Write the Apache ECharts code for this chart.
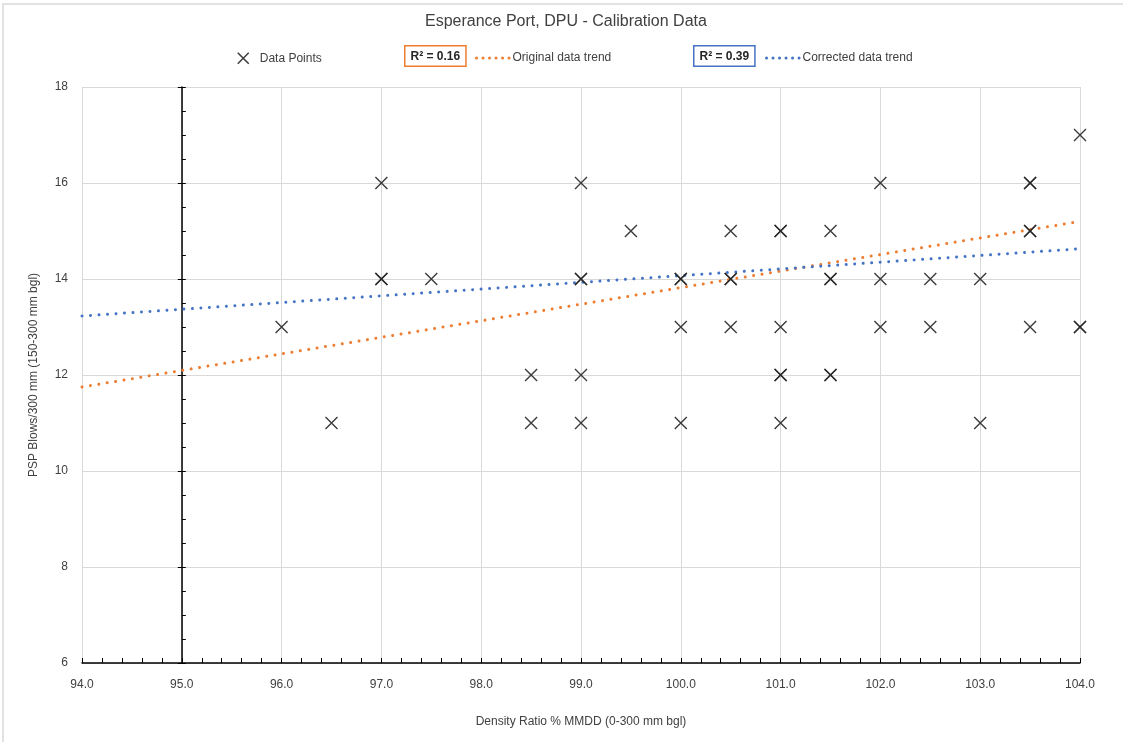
<!DOCTYPE html>
<html>
<head>
<meta charset="utf-8">
<script src="https://cdn.jsdelivr.net/npm/echarts@6/dist/echarts.min.js"></script>
<style>
  html, body { margin: 0; padding: 0; background: #fff; }
  #chart { width: 1123px; height: 742px; }
</style>
</head>
<body>
<div id="chart"></div>
<script>
// calibration points [density ratio %, PSP blows]; repeated points are listed twice
const dataPoints = [
  [96.0, 13], [96.5, 11],
  [97.0, 16], [97.0, 14], [97.0, 14], [97.5, 14],
  [98.5, 12], [98.5, 11],
  [99.0, 16], [99.0, 14], [99.0, 14], [99.0, 12], [99.0, 11],
  [99.5, 15],
  [100.0, 14], [100.0, 14], [100.0, 13], [100.0, 11],
  [100.5, 15], [100.5, 14], [100.5, 14], [100.5, 13],
  [101.0, 15], [101.0, 15], [101.0, 13], [101.0, 12], [101.0, 12], [101.0, 11],
  [101.5, 15], [101.5, 14], [101.5, 14], [101.5, 12], [101.5, 12],
  [102.0, 16], [102.0, 14], [102.0, 13],
  [102.5, 14], [102.5, 13],
  [103.0, 14], [103.0, 11],
  [103.5, 16], [103.5, 16], [103.5, 15], [103.5, 15], [103.5, 13],
  [104.0, 17], [104.0, 13], [104.0, 13]
];
const originalTrend = [[94.0, 11.75], [104.0, 15.2]];
const correctedTrend = [[94.0, 13.23], [104.0, 14.63]];
const seriesNames = ["Data Points", "Original data trend", "Corrected data trend"];
const r2Labels = ["R\u00b2 = 0.16", "R\u00b2 = 0.39"];

const ORANGE = "#ED7D31";
const BLUE = "#4472C4";
const INK = "#262626";
const GRID_C = "#d9d9d9";
const FONT = "Liberation Sans";
const X_ICON = "path://M0,0L10,10M10,0L0,10";

const chart = echarts.init(document.getElementById("chart"));

const GRID_L = 82, GRID_R = 43;
const plotW = 1123 - GRID_L - GRID_R;
const axisShift = -plotW / 10; // vertical axis crosses at 95.0

const dotted = (color) => ({ color, width: 3, type: [0.01, 8.5], cap: "round" });

const vAxisBase = {
  type: "value", min: 6, max: 18, interval: 2, position: "left",
  offset: axisShift,
  axisLabel: { show: false },
  splitLine: { show: false },
};

const trendLegend = (name, left) => ({
  data: [name],
  left, top: 47, itemWidth: 34, itemHeight: 10,
  itemStyle: { opacity: 0 },
  lineStyle: { width: 3, type: [0.01, 6.5], cap: "round" },
  textStyle: { fontFamily: FONT, fontSize: 12, color: "#404040", padding: [0, 0, 0, -3] },
});

chart.setOption({
  backgroundColor: "#fff",
  animation: false,
  textStyle: { fontFamily: FONT },
  title: {
    text: "Esperance Port, DPU - Calibration Data",
    left: 420, top: 9,
    textStyle: { fontFamily: FONT, fontSize: 16, fontWeight: "normal", color: "#404040" },
  },
  legend: [
    {
      data: [{ name: seriesNames[0], icon: X_ICON }],
      left: 232, top: 47, itemWidth: 11, itemHeight: 11, itemGap: 8,
      itemStyle: { color: "transparent", borderColor: INK, borderWidth: 1.5 },
      textStyle: { fontFamily: FONT, fontSize: 12, color: "#404040", padding: [0, 0, 0, 6] },
    },
    trendLegend(seriesNames[1], 470),
    trendLegend(seriesNames[2], 760),
  ],
  graphic: [
    {
      type: "rect", silent: true, z: -10,
      shape: { x: 3, y: 4, width: 1140, height: 760 },
      style: { fill: "none", stroke: GRID_C, lineWidth: 1.5 },
    },
    {
      type: "text", left: 404, top: 45,
      style: {
        text: r2Labels[0], fontFamily: FONT, fontSize: 12, fontWeight: "bold", fill: INK,
        borderColor: ORANGE, borderWidth: 1.5, padding: [4, 5, 3, 5], backgroundColor: "#fff",
      },
    },
    {
      type: "text", left: 693, top: 45,
      style: {
        text: r2Labels[1], fontFamily: FONT, fontSize: 12, fontWeight: "bold", fill: INK,
        borderColor: BLUE, borderWidth: 1.5, padding: [4, 5, 3, 5], backgroundColor: "#fff",
      },
    },
  ],
  grid: { left: GRID_L, right: GRID_R, top: 87, bottom: 79 },
  xAxis: {
    type: "value", min: 94, max: 104, interval: 1,
    name: "Density Ratio % MMDD (0-300 mm bgl)",
    nameLocation: "middle", nameGap: 53,
    nameTextStyle: { fontFamily: FONT, fontSize: 12, color: "#404040" },
    axisLine: { lineStyle: { color: "#000", width: 1.5 } },
    axisTick: { inside: true, length: 5, lineStyle: { color: "#000" } },
    minorTick: { show: true, splitNumber: 5, length: 5, lineStyle: { color: "#000" } },
    axisLabel: { margin: 16, fontSize: 12, color: "#404040", formatter: (v) => v.toFixed(1) },
    splitLine: { lineStyle: { color: GRID_C } },
  },
  yAxis: [
    {
      type: "value", min: 6, max: 18, interval: 2,
      name: "PSP Blows/300 mm (150-300 mm bgl)",
      nameLocation: "middle", nameGap: 42,
      nameTextStyle: { fontFamily: FONT, fontSize: 12, color: "#404040" },
      axisLine: { show: false },
      axisTick: { show: false },
      axisLabel: { margin: 14, fontSize: 12, color: "#404040" },
      splitLine: { lineStyle: { color: GRID_C } },
    },
    {
      ...vAxisBase,
      axisLine: { show: true, lineStyle: { color: "#000", width: 1.5 } },
      axisTick: { show: true, inside: true, length: 4, lineStyle: { color: "#000" } },
      minorTick: { show: true, splitNumber: 4, length: 4, lineStyle: { color: "#000" } },
    },
    {
      ...vAxisBase,
      axisLine: { show: false },
      axisTick: { show: true, inside: false, length: 4, lineStyle: { color: "#000" } },
    },
  ],
  series: [
    {
      name: seriesNames[1], type: "line", data: originalTrend,
      symbol: "none", color: ORANGE, lineStyle: dotted(ORANGE), z: 3,
    },
    {
      name: seriesNames[2], type: "line", data: correctedTrend,
      symbol: "none", color: BLUE, lineStyle: dotted(BLUE), z: 3,
    },
    {
      name: seriesNames[0], type: "scatter", data: dataPoints,
      symbol: X_ICON, symbolSize: 12,
      itemStyle: { color: "transparent", borderColor: INK, borderWidth: 1.4, opacity: 0.9 },
      z: 5,
    },
  ],
});
</script>
</body>
</html>
